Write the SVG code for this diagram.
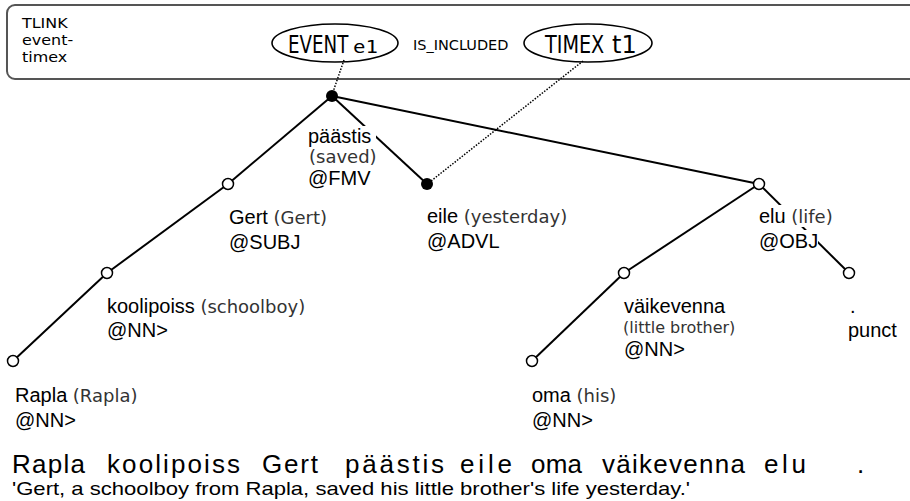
<svg xmlns="http://www.w3.org/2000/svg" width="910" height="501" viewBox="0 0 910 501">
  <defs>
    <style>
      .frame { fill: #fff; stroke: #555; stroke-width: 2; }
      .oval { fill: #fff; stroke: #000; stroke-width: 1.6; }
      .edge { stroke: #000; stroke-width: 2; fill: none; }
      .link { stroke: #000; stroke-width: 1.5; stroke-dasharray: 1.5 1.5; fill: none; }
      .open { fill: #fff; stroke: #000; stroke-width: 1.5; }
      .dot { fill: #000; }
      .bg { fill: #fff; }
      .w { font-family: "Liberation Sans", Arial, sans-serif; font-size: 20px; fill: #000; }
      .g { font-family: "DejaVu Sans", Verdana, sans-serif; font-size: 18px; fill: #333; }
      .gs { font-family: "DejaVu Sans", Verdana, sans-serif; font-size: 16px; fill: #333; }
      .hdr { font-family: "DejaVu Sans", Verdana, sans-serif; font-size: 14.5px; fill: #000; }
      .big { font-family: "DejaVu Sans", Verdana, sans-serif; font-size: 24px; fill: #000; }
      .mono { font-family: "DejaVu Sans Mono", monospace; font-size: 18px; fill: #000; }
      .sent { font-family: "Liberation Sans", Arial, sans-serif; font-size: 26px; fill: #000; }
      .gloss { font-family: "Liberation Sans", Arial, sans-serif; font-size: 19px; fill: #000; }
    </style>
  </defs>

  <!-- temporal link header -->
  <g id="tlink">
    <rect class="frame" x="7" y="5" width="920" height="74" rx="8"/>
    <text class="hdr" transform="translate(22,28) scale(1.1,1)">TLINK</text>
    <text class="hdr" transform="translate(22,45) scale(1.1,1)">event-</text>
    <text class="hdr" transform="translate(22,62) scale(1.1,1)">timex</text>
    <text class="hdr" x="413" y="50">IS_INCLUDED</text>
  </g>
  <g id="event-e1">
    <ellipse class="oval" cx="335" cy="43" rx="63" ry="19"/>
    <text class="big" transform="translate(288,53) scale(0.76,1)">EVENT</text>
    <text class="mono" transform="translate(353,53) scale(1.15,1)">e1</text>
  </g>
  <g id="timex-t1">
    <ellipse class="oval" cx="588" cy="43" rx="64" ry="19"/>
    <text class="big" transform="translate(545,53) scale(0.8,1)">TIMEX</text>
    <text class="big" x="612" y="53" font-size="20">t1</text>
  </g>

  <!-- dependency edges and anchor links -->
  <g id="connectors">
    <line class="edge" x1="332" y1="96" x2="228" y2="184"/>
    <line class="edge" x1="332" y1="96" x2="427" y2="184"/>
    <line class="edge" x1="332" y1="96" x2="759" y2="184"/>
    <line class="edge" x1="228" y1="184" x2="107" y2="273"/>
    <line class="edge" x1="107" y1="273" x2="13" y2="361"/>
    <line class="edge" x1="759" y1="184" x2="624" y2="273"/>
    <line class="edge" x1="759" y1="184" x2="849" y2="273"/>
    <line class="edge" x1="624" y1="273" x2="532" y2="361"/>
    <line class="link" x1="344" y1="60" x2="333" y2="92"/>
    <line class="link" x1="583" y1="61" x2="431" y2="181"/>
  </g>

  <!-- tree nodes -->
  <g id="n-paastis">
    <rect class="bg" x="306" y="126" width="70" height="62"/>
    <circle class="dot" cx="332" cy="96" r="6"/>
    <text class="w" x="308" y="143">päästis</text>
    <text class="g" x="309" y="163">(saved)</text>
    <text class="w" x="308" y="185">@FMV</text>
  </g>
  <g id="n-gert">
    <circle class="open" cx="228" cy="184" r="5.5"/>
    <text class="w" x="229" y="224">Gert <tspan class="g">(Gert)</tspan></text>
    <text class="w" x="229" y="249">@SUBJ</text>
  </g>
  <g id="n-koolipoiss">
    <circle class="open" cx="107" cy="273" r="5.5"/>
    <text class="w" x="107" y="313">koolipoiss <tspan class="g">(schoolboy)</tspan></text>
    <text class="w" x="107" y="337">@NN&gt;</text>
  </g>
  <g id="n-rapla">
    <circle class="open" cx="13" cy="361" r="5.5"/>
    <text class="w" x="15" y="402">Rapla <tspan class="g">(Rapla)</tspan></text>
    <text class="w" x="15" y="427">@NN&gt;</text>
  </g>
  <g id="n-eile">
    <circle class="dot" cx="427" cy="184" r="6"/>
    <text class="w" x="427" y="223">eile <tspan class="g">(yesterday)</tspan></text>
    <text class="w" x="427" y="248">@ADVL</text>
  </g>
  <g id="n-elu">
    <rect class="bg" x="756" y="205" width="86" height="22"/>
    <rect class="bg" x="756" y="230" width="62" height="22"/>
    <circle class="open" cx="759" cy="184" r="5.5"/>
    <text class="w" x="759" y="223">elu <tspan class="g">(life)</tspan></text>
    <text class="w" x="759" y="248">@OBJ</text>
  </g>
  <g id="n-vaikevenna">
    <circle class="open" cx="624" cy="273" r="5.5"/>
    <text class="w" x="624" y="313">väikevenna</text>
    <text class="gs" x="623" y="333">(little brother)</text>
    <text class="w" x="624" y="356">@NN&gt;</text>
  </g>
  <g id="n-punct">
    <circle class="open" cx="849" cy="273" r="5.5"/>
    <text class="w" x="850" y="313">.</text>
    <text class="w" x="848" y="337">punct</text>
  </g>
  <g id="n-oma">
    <circle class="open" cx="532" cy="361" r="5.5"/>
    <text class="w" x="532" y="402">oma <tspan class="g">(his)</tspan></text>
    <text class="w" x="532" y="427">@NN&gt;</text>
  </g>

  <!-- sentence and gloss -->
  <g id="sentence">
    <text class="sent" x="12" y="473" textLength="73" lengthAdjust="spacing">Rapla</text>
    <text class="sent" x="107" y="473" textLength="133" lengthAdjust="spacing">koolipoiss</text>
    <text class="sent" x="262" y="473" textLength="56" lengthAdjust="spacing">Gert</text>
    <text class="sent" x="345" y="473" textLength="99" lengthAdjust="spacing">päästis</text>
    <text class="sent" x="460" y="473" textLength="52" lengthAdjust="spacing">eile</text>
    <text class="sent" x="531" y="473" textLength="51" lengthAdjust="spacing">oma</text>
    <text class="sent" x="602" y="473" textLength="143" lengthAdjust="spacing">väikevenna</text>
    <text class="sent" x="764" y="473" textLength="42" lengthAdjust="spacing">elu</text>
    <text class="sent" x="857" y="473">.</text>
    <text class="gloss" x="12" y="495" textLength="678" lengthAdjust="spacingAndGlyphs">'Gert, a schoolboy from Rapla, saved his little brother's life yesterday.'</text>
  </g>
</svg>
